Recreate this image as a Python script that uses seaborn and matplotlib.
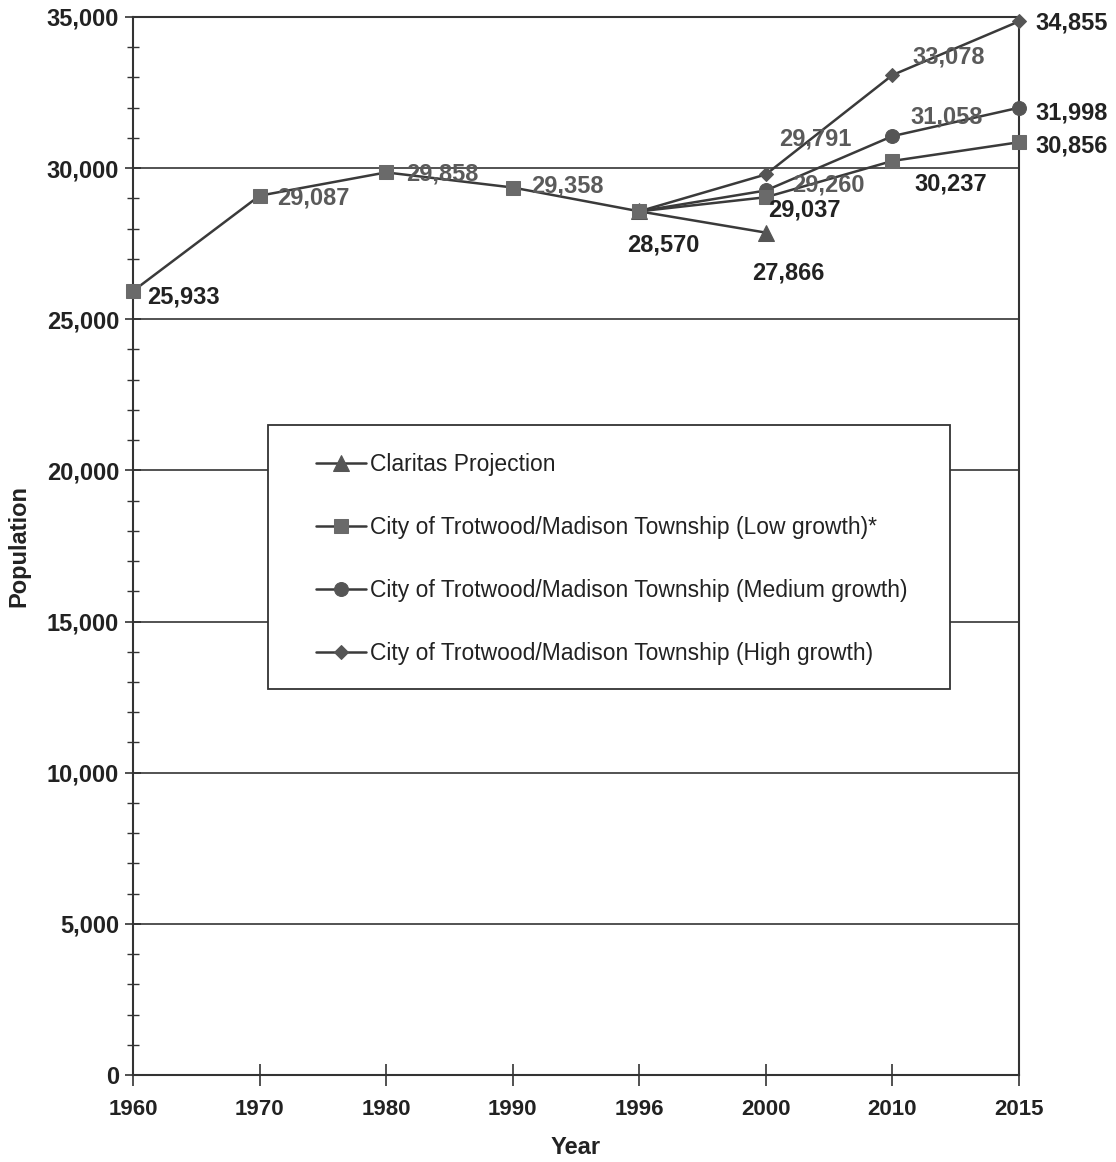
import matplotlib
matplotlib.use("Agg")
import matplotlib.pyplot as plt
from matplotlib.patches import Rectangle
from matplotlib.ticker import MultipleLocator, FuncFormatter
import seaborn as sns
import pandas as pd

# Population history and projections
years = ["1960", "1970", "1980", "1990", "1996", "2000", "2010", "2015"]

claritas_years = ["1996", "2000"]
claritas_pop = [28570, 27866]

low_years = ["1960", "1970", "1980", "1990", "1996", "2000", "2010", "2015"]
low_pop = [25933, 29087, 29858, 29358, 28570, 29037, 30237, 30856]

medium_years = ["1996", "2000", "2010", "2015"]
medium_pop = [28570, 29260, 31058, 31998]

high_years = ["1996", "2000", "2010", "2015"]
high_pop = [28570, 29791, 33078, 34855]

series_names = [
    "Claritas Projection",
    "City of Trotwood/Madison Township (Low growth)*",
    "City of Trotwood/Madison Township (Medium growth)",
    "City of Trotwood/Madison Township (High growth)",
]

sns.set_theme(style="white")
plt.rcParams["font.family"] = ["Liberation Sans", "DejaVu Sans"]

fig = plt.figure(figsize=(11.16, 11.62), dpi=100)
ax = fig.add_axes([0.1192, 0.0749, 0.7939, 0.9105])

pos = {y: i for i, y in enumerate(years)}
line_col = "#3a3a3a"

def frame(yrs, vals, name):
    return pd.DataFrame({"x": [pos[y] for y in yrs], "y": vals, "s": name})

styles = [
    (claritas_years, claritas_pop, "^", 11, "#555555"),
    (low_years, low_pop, "s", 10, "#6a6a6a"),
    (medium_years, medium_pop, "o", 10, "#555555"),
    (high_years, high_pop, "D", 7, "#555555"),
]

# low growth drawn last so the shared 1996 point shows as a square
draw_order = [2, 3, 0, 1]
for i in draw_order:
    yrs, vals, m, ms, mc = styles[i]
    df = frame(yrs, vals, series_names[i])
    sns.lineplot(data=df, x="x", y="y", ax=ax, color=line_col, linewidth=1.8,
                 marker=m, markersize=ms, markerfacecolor=mc, markeredgecolor=mc,
                 label=series_names[i], zorder=3 + (i == 1), clip_on=False)

# value labels: (years, values, index, dx px, dy px, ha, colour)
dark = "#222222"
grey = "#5a5a5a"
labels = [
    (low_years, low_pop, 0, 14, -6, "left", dark),
    (low_years, low_pop, 1, 18, -2, "left", grey),
    (low_years, low_pop, 2, 20, -2, "left", grey),
    (low_years, low_pop, 3, 18, 2, "left", grey),
    (low_years, low_pop, 4, 24, -34, "center", dark),
    (claritas_years, claritas_pop, 1, 22, -40, "center", dark),
    (low_years, low_pop, 5, 38, -13, "center", dark),
    (medium_years, medium_pop, 1, 26, 5, "left", grey),
    (high_years, high_pop, 1, 13, 35, "left", grey),
    (high_years, high_pop, 2, 20, 18, "left", grey),
    (medium_years, medium_pop, 2, 18, 19, "left", grey),
    (low_years, low_pop, 6, 22, -23, "left", dark),
    (high_years, high_pop, 3, 16, -2, "left", dark),
    (medium_years, medium_pop, 3, 16, -5, "left", dark),
    (low_years, low_pop, 7, 16, -4, "left", dark),
]
for yrs, vals, k, dx, dy, ha, c in labels:
    ax.annotate(f"{vals[k]:,}", (pos[yrs[k]], vals[k]), xytext=(dx * 0.72, dy * 0.72),
                textcoords="offset points", ha=ha, va="center", fontsize=17,
                fontweight="bold", color=c, zorder=6, annotation_clip=False)

ax.set_xlim(0, len(years) - 1)
ax.set_ylim(0, 35000)
ax.set_xticks(range(len(years)))
ax.set_xticklabels(years)
ax.yaxis.set_major_locator(MultipleLocator(5000))
ax.yaxis.set_minor_locator(MultipleLocator(1000))
ax.yaxis.set_major_formatter(FuncFormatter(lambda v, p: f"{int(v):,}"))

ax.grid(axis="y", which="major", color="#444444", linewidth=1.3)
ax.set_axisbelow(True)
for sp in ax.spines.values():
    sp.set_visible(True)
    sp.set_color("#333333")
    sp.set_linewidth(1.5)

ax.tick_params(axis="y", which="major", direction="inout", length=12, width=1.2,
               color="#333333", labelsize=17, pad=4, left=True)
ax.tick_params(axis="y", which="minor", direction="inout", length=9, width=1.0,
               color="#333333", left=True)
ax.tick_params(axis="x", which="major", direction="inout", length=16, width=1.2,
               color="#333333", labelsize=16, pad=9, bottom=True)
for t in ax.get_xticklabels() + ax.get_yticklabels():
    t.set_fontweight("bold")
    t.set_color("#222222")

ax.set_xlabel("Year", fontsize=17, fontweight="bold", color="#222222", labelpad=12)
ax.set_ylabel("Population", fontsize=17, fontweight="bold", color="#222222", labelpad=12)

# legend box
box = Rectangle((0.152, 0.365), 0.770, 0.249, transform=ax.transAxes,
                facecolor="white", edgecolor="#333333", linewidth=1.3, zorder=7)
ax.add_patch(box)

h, l = ax.get_legend_handles_labels()
order = [l.index(n) for n in series_names]
leg = ax.legend([h[i] for i in order], [l[i] for i in order],
                loc="upper left", bbox_to_anchor=((316 - 133) / 886, (1075 - 453) / 1058),
                frameon=False, fontsize=16.5, handlelength=2.2, handletextpad=0.15,
                labelspacing=1.75, borderpad=0, borderaxespad=0)
leg.set_zorder(8)
for t in leg.get_texts():
    t.set_color("#222222")

fig.savefig("out.png", dpi=100, facecolor="white")
